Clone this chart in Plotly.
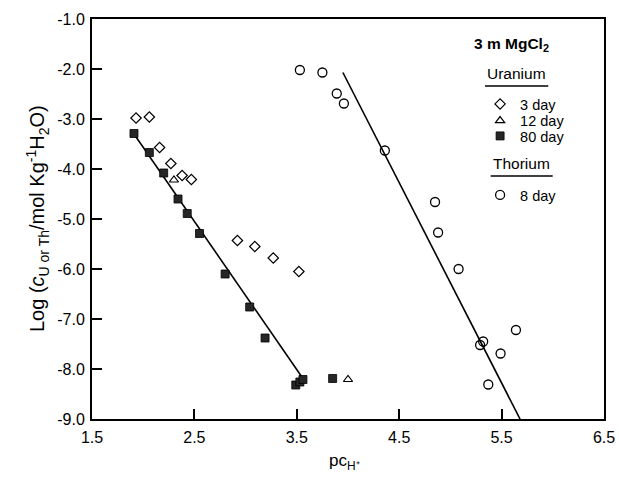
import plotly.graph_objects as go

# ---- data ----
u3_x = [1.93, 2.06, 2.16, 2.27, 2.38, 2.47, 2.92, 3.09, 3.27, 3.52]
u3_y = [-2.98, -2.96, -3.57, -3.89, -4.13, -4.21, -5.43, -5.55, -5.78, -6.05]

u12_x = [2.30, 4.00]
u12_y = [-4.22, -8.21]

u80_x = [1.91, 2.06, 2.20, 2.34, 2.43, 2.55, 2.80, 3.04, 3.19, 3.49, 3.53, 3.56, 3.85]
u80_y = [-3.29, -3.67, -4.08, -4.60, -4.89, -5.29, -6.10, -6.76, -7.38, -8.32, -8.26, -8.21, -8.19]

th8_x = [3.53, 3.75, 3.89, 3.96, 4.36, 4.85, 4.88, 5.08, 5.64, 5.32, 5.29, 5.49, 5.37]
th8_y = [-2.02, -2.07, -2.49, -2.69, -3.63, -4.66, -5.27, -6.00, -7.22, -7.45, -7.52, -7.69, -8.31]

u_fit_x = [1.90, 3.57]
u_fit_y = [-3.27, -8.22]
th_fit_x = [3.95, 5.68]
th_fit_y = [-2.07, -9.00]

x_ticks = [1.5, 2.5, 3.5, 4.5, 5.5, 6.5]
x_ticklabels = ["1.5", "2.5", "3.5", "4.5", "5.5", "6.5"]
y_ticks = [-9, -8, -7, -6, -5, -4, -3, -2, -1]
y_ticklabels = ["-9.0", "-8.0", "-7.0", "-6.0", "-5.0", "-4.0", "-3.0", "-2.0", "-1.0"]

FONT = "Liberation Sans, Arial, sans-serif"

fig = go.Figure()

fig.add_trace(go.Scatter(x=u_fit_x, y=u_fit_y, mode="lines",
                         line=dict(color="black", width=1.6), showlegend=False, hoverinfo="skip"))
fig.add_trace(go.Scatter(x=th_fit_x, y=th_fit_y, mode="lines",
                         line=dict(color="black", width=1.6), showlegend=False, hoverinfo="skip"))

fig.add_trace(go.Scatter(x=u3_x, y=u3_y, mode="markers", name="3 day", legend="legend",
                         marker=dict(symbol="diamond-open", size=8, color="black", line=dict(width=1.2))))
fig.add_trace(go.Scatter(x=u12_x, y=u12_y, mode="markers", name="12 day", legend="legend2",
                         marker=dict(symbol="triangle-up-open", size=8, color="black", line=dict(width=1.2))))
fig.add_trace(go.Scatter(x=u80_x, y=u80_y, mode="markers", name="80 day", legend="legend3",
                         marker=dict(symbol="square", size=8, color="#262626",
                                     line=dict(width=0.8, color="black"))))
fig.add_trace(go.Scatter(x=th8_x, y=th8_y, mode="markers", name="8 day", legend="legend4",
                         marker=dict(symbol="circle-open", size=9, color="black", line=dict(width=1.3))))

def leg(y):
    return dict(x=0.758, y=y, xanchor="left", yanchor="middle", bgcolor="rgba(0,0,0,0)",
                borderwidth=0, itemwidth=30, font=dict(family=FONT, size=14.5, color="black"),
                tracegroupgap=0)

axis_common = dict(showline=True, linecolor="black", linewidth=2, mirror=True,
                   ticks="inside", ticklen=10, tickwidth=1.5, tickcolor="black",
                   showgrid=False, zeroline=False, automargin=False,
                   tickfont=dict(family=FONT, size=16, color="black"))

fig.update_layout(
    width=619, height=477,
    margin=dict(l=92, r=15, t=19, b=58),
    paper_bgcolor="white", plot_bgcolor="white",
    xaxis=dict(range=[1.5, 6.5], tickvals=x_ticks, ticktext=x_ticklabels,
               ticklabelstandoff=3, **axis_common),
    yaxis=dict(range=[-9, -1], tickvals=y_ticks, ticktext=y_ticklabels,
               ticklabelstandoff=2, **axis_common),
    legend=leg(0.7875), legend2=leg(0.7458), legend3=leg(0.7075), legend4=leg(0.56),
    showlegend=True,
    annotations=[
        dict(text="<b>3 m MgCl<sub>2</sub></b>", x=0.8197, y=0.935, xref="paper", yref="paper",
             xanchor="center", yanchor="middle",
             showarrow=False, font=dict(family=FONT, size=15.5, color="black")),
        dict(text="Uranium", x=0.8295, y=0.8625, xref="paper", yref="paper",
             xanchor="center", yanchor="middle",
             showarrow=False, font=dict(family=FONT, size=15.5, color="black")),
        dict(text="Thorium", x=0.8393, y=0.639, xref="paper", yref="paper",
             xanchor="center", yanchor="middle",
             showarrow=False, font=dict(family=FONT, size=15.5, color="black")),
        dict(text="Log (<i>c</i><sub>U or Th</sub>/mol Kg<sup>-1</sup>H<sub>2</sub>O)",
             x=-0.1074, y=0.5, xref="paper", yref="paper", textangle=-90,
             xanchor="center", yanchor="middle",
             showarrow=False, font=dict(family=FONT, size=20, color="black")),
        dict(text="pc<sub>H⁺</sub>", x=0.494, y=-0.1075, xref="paper", yref="paper",
             xanchor="center", yanchor="middle",
             showarrow=False, font=dict(family=FONT, size=17, color="black")),
    ],
    shapes=[
        dict(type="line", xref="paper", yref="paper", x0=0.7676, x1=0.8912, y0=0.8325, y1=0.8325,
             line=dict(color="black", width=1.3)),
        dict(type="line", xref="paper", yref="paper", x0=0.7787, x1=0.8998, y0=0.6075, y1=0.6075,
             line=dict(color="black", width=1.3)),
    ],
)

fig.write_html("out.html", config={"displayModeBar": False},
               post_script="document.body.style.margin='0';document.body.style.overflow='hidden';")
